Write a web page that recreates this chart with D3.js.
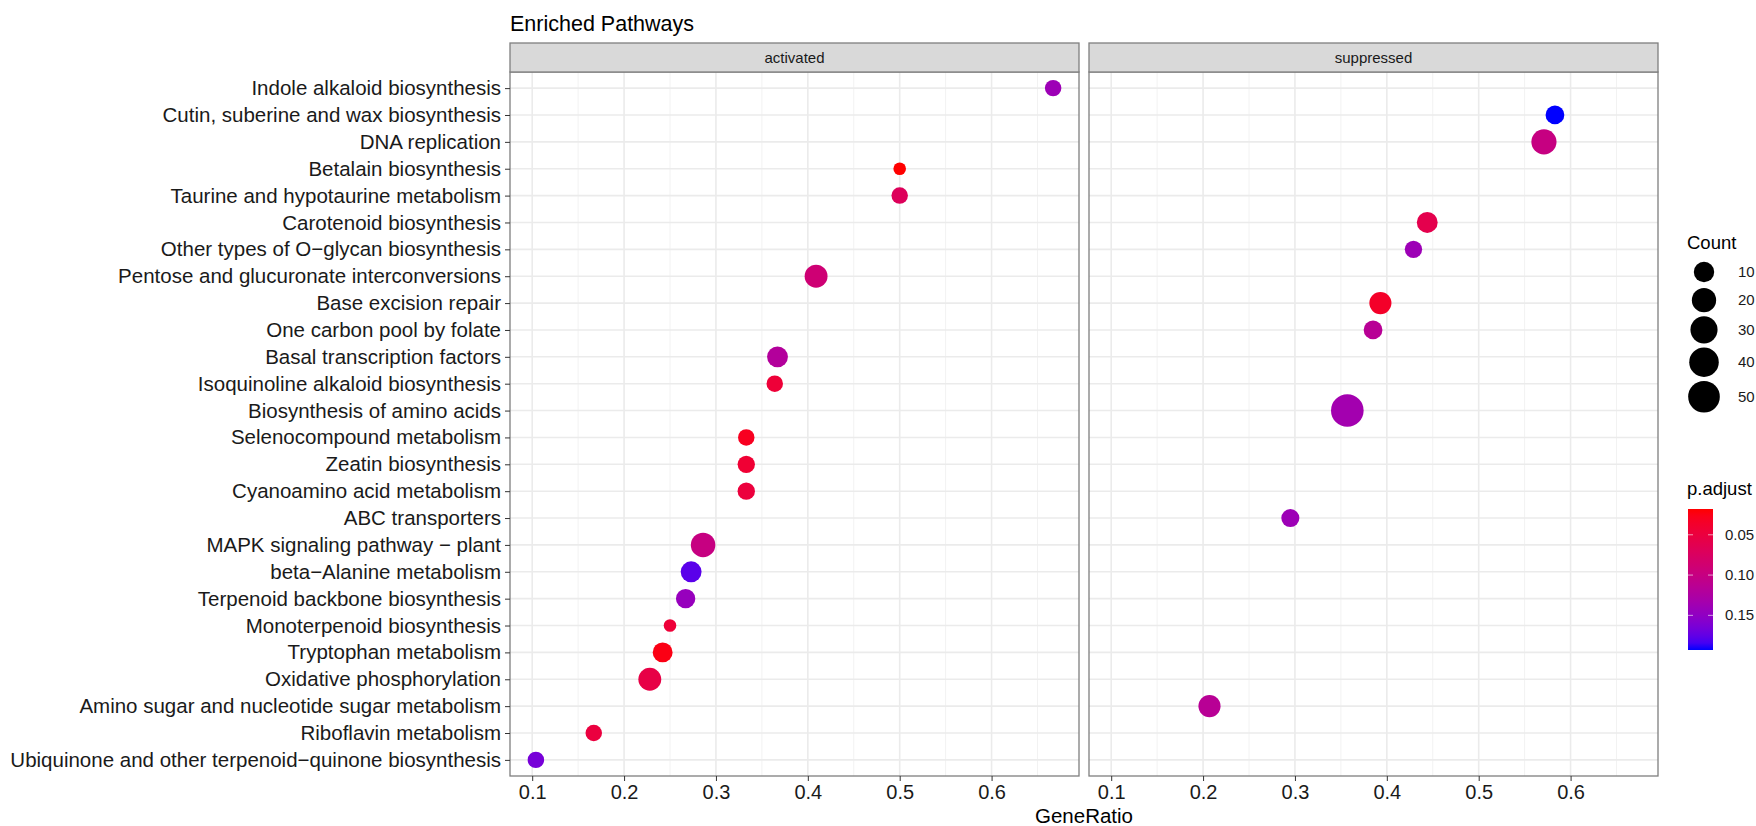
<!DOCTYPE html>
<html>
<head>
<meta charset="utf-8">
<script src="https://cdn.jsdelivr.net/npm/d3@7"></script>
<style>
  body { margin: 0; background: #fff; }
  text { font-family: "Liberation Sans", Arial, sans-serif; }
</style>
</head>
<body>
<div id="chart"></div>
<script>
// pathways, top to bottom, as on the y axis
var pathways = [
  "Indole alkaloid biosynthesis",
  "Cutin, suberine and wax biosynthesis",
  "DNA replication",
  "Betalain biosynthesis",
  "Taurine and hypotaurine metabolism",
  "Carotenoid biosynthesis",
  "Other types of O\u2212glycan biosynthesis",
  "Pentose and glucuronate interconversions",
  "Base excision repair",
  "One carbon pool by folate",
  "Basal transcription factors",
  "Isoquinoline alkaloid biosynthesis",
  "Biosynthesis of amino acids",
  "Selenocompound metabolism",
  "Zeatin biosynthesis",
  "Cyanoamino acid metabolism",
  "ABC transporters",
  "MAPK signaling pathway \u2212 plant",
  "beta\u2212Alanine metabolism",
  "Terpenoid backbone biosynthesis",
  "Monoterpenoid biosynthesis",
  "Tryptophan metabolism",
  "Oxidative phosphorylation",
  "Amino sugar and nucleotide sugar metabolism",
  "Riboflavin metabolism",
  "Ubiquinone and other terpenoid\u2212quinone biosynthesis"
];

var panels = ["activated", "suppressed"];

// activated panel
var actTerms = [
  "Indole alkaloid biosynthesis",
  "Betalain biosynthesis",
  "Taurine and hypotaurine metabolism",
  "Pentose and glucuronate interconversions",
  "Basal transcription factors",
  "Isoquinoline alkaloid biosynthesis",
  "Selenocompound metabolism",
  "Zeatin biosynthesis",
  "Cyanoamino acid metabolism",
  "MAPK signaling pathway \u2212 plant",
  "beta\u2212Alanine metabolism",
  "Terpenoid backbone biosynthesis",
  "Monoterpenoid biosynthesis",
  "Tryptophan metabolism",
  "Oxidative phosphorylation",
  "Riboflavin metabolism",
  "Ubiquinone and other terpenoid\u2212quinone biosynthesis"
];
var actRatio = [0.667, 0.5, 0.5, 0.409, 0.367, 0.364, 0.333, 0.333, 0.333, 0.286, 0.273, 0.267, 0.25, 0.242, 0.228, 0.167, 0.104];
var actCount = [4, 2, 4, 16, 11, 4, 4, 5, 5, 21, 11, 8, 2, 9, 16, 4, 4];
var actPadj  = [0.14, 0.018, 0.07, 0.09, 0.12, 0.045, 0.03, 0.042, 0.048, 0.10, 0.178, 0.145, 0.045, 0.024, 0.055, 0.05, 0.165];

// suppressed panel
var supTerms = [
  "Cutin, suberine and wax biosynthesis",
  "DNA replication",
  "Carotenoid biosynthesis",
  "Other types of O\u2212glycan biosynthesis",
  "Base excision repair",
  "One carbon pool by folate",
  "Biosynthesis of amino acids",
  "ABC transporters",
  "Amino sugar and nucleotide sugar metabolism"
];
var supRatio = [0.583, 0.571, 0.444, 0.429, 0.393, 0.385, 0.357, 0.295, 0.207];
var supCount = [7, 23, 11, 5, 14, 7, 55, 6, 14];
var supPadj  = [0.193, 0.10, 0.06, 0.14, 0.035, 0.115, 0.135, 0.14, 0.115];

// legend breaks
var countBreaks = [10, 20, 30, 40, 50];
var padjBreaks = [0.05, 0.10, 0.15];

// build rows for d3
var points = [];
actTerms.forEach(function(t, i) {
  points.push({panel: "activated", term: t, ratio: actRatio[i], count: actCount[i], padj: actPadj[i]});
});
supTerms.forEach(function(t, i) {
  points.push({panel: "suppressed", term: t, ratio: supRatio[i], count: supCount[i], padj: supPadj[i]});
});

// layout
var W = 1756, H = 826;
var stripTop = 43, panelTop = 72, panelBottom = 776;
var panelW = 569, panelH = panelBottom - panelTop;
var panelX = [510, 1089];

var svg = d3.select("#chart")
  .append("svg")
  .attr("width", W)
  .attr("height", H);

// x scale with ggplot-like 5% expansion
var rMin = d3.min(points, function(d) { return d.ratio; });
var rMax = d3.max(points, function(d) { return d.ratio; });
var pad = (rMax - rMin) * 0.05;
var x = d3.scaleLinear()
  .domain([rMin - pad, rMax + pad])
  .range([0, panelW]);
var xTicks = x.ticks(6);
var xMinor = [];
for (var i = 0; i < xTicks.length; i++) {
  var m = xTicks[i] + 0.05;
  if (m < x.domain()[1]) xMinor.push(m);
}
if (xTicks[0] - 0.05 > x.domain()[0]) xMinor.push(xTicks[0] - 0.05);

var y = d3.scalePoint()
  .domain(pathways)
  .range([0, panelH])
  .padding(0.6);

// size: ggplot area_pal style, range on diameter
var cMin = d3.min(points, function(d) { return d.count; });
var cMax = d3.max(points, function(d) { return d.count; });
var rad = d3.scaleLinear().domain([0, 1]).range([6.3, 16.3]);
function radius(c) {
  return rad(Math.sqrt((c - cMin) / (cMax - cMin)));
}

// colour: red (low p) -> blue (high p), Lab interpolation
var pLo = d3.min(points, function(d) { return d.padj; });
var pHi = d3.max(points, function(d) { return d.padj; });
var colour = d3.scaleLinear()
  .domain([pLo, pHi])
  .range(["red", "blue"])
  .interpolate(d3.interpolateLab);

// title
svg.append("text")
  .attr("x", 510)
  .attr("y", 31)
  .attr("font-size", "21.5px")
  .attr("fill", "#000")
  .text("Enriched Pathways");

panels.forEach(function(p, k) {
  var g = svg.append("g")
    .attr("transform", "translate(" + panelX[k] + "," + panelTop + ")");

  // strip
  svg.append("rect")
    .attr("x", panelX[k])
    .attr("y", stripTop)
    .attr("width", panelW)
    .attr("height", panelTop - stripTop)
    .attr("fill", "#d9d9d9")
    .attr("stroke", "#7f7f7f")
    .attr("stroke-width", 1.3);
  svg.append("text")
    .attr("x", panelX[k] + panelW / 2)
    .attr("y", stripTop + (panelTop - stripTop) / 2 + 5)
    .attr("text-anchor", "middle")
    .attr("font-size", "15px")
    .attr("fill", "#1a1a1a")
    .text(p);

  // grid
  g.selectAll(".minor")
    .data(xMinor)
    .enter()
    .append("line")
    .attr("x1", function(d) { return x(d); })
    .attr("x2", function(d) { return x(d); })
    .attr("y1", 0)
    .attr("y2", panelH)
    .attr("stroke", "#f2f2f2")
    .attr("stroke-width", 1);
  g.selectAll(".major")
    .data(xTicks)
    .enter()
    .append("line")
    .attr("x1", function(d) { return x(d); })
    .attr("x2", function(d) { return x(d); })
    .attr("y1", 0)
    .attr("y2", panelH)
    .attr("stroke", "#ebebeb")
    .attr("stroke-width", 1.6);
  g.selectAll(".hgrid")
    .data(pathways)
    .enter()
    .append("line")
    .attr("x1", 0)
    .attr("x2", panelW)
    .attr("y1", function(d) { return y(d); })
    .attr("y2", function(d) { return y(d); })
    .attr("stroke", "#ebebeb")
    .attr("stroke-width", 1.6);

  // dots
  g.selectAll("circle")
    .data(points.filter(function(d) { return d.panel == p; }))
    .enter()
    .append("circle")
    .attr("cx", function(d) { return x(d.ratio); })
    .attr("cy", function(d) { return y(d.term); })
    .attr("r", function(d) { return radius(d.count); })
    .attr("fill", function(d) { return colour(d.padj); });

  // border
  g.append("rect")
    .attr("width", panelW)
    .attr("height", panelH)
    .attr("fill", "none")
    .attr("stroke", "#7f7f7f")
    .attr("stroke-width", 1.3);

  // x axis
  var ax = g.append("g")
    .attr("transform", "translate(0," + panelH + ")")
    .call(d3.axisBottom(x).tickValues(xTicks).tickSize(5).tickPadding(4).tickFormat(d3.format(".1f")));
  ax.select(".domain").remove();
  ax.selectAll("line").attr("stroke", "#333");
  ax.selectAll("text").attr("font-size", "20px").attr("fill", "#1a1a1a")
    .attr("font-family", "Liberation Sans, Arial, sans-serif");

  // y axis on the first panel only
  if (k == 0) {
    var ay = g.append("g")
      .call(d3.axisLeft(y).tickSize(5).tickPadding(4));
    ay.select(".domain").remove();
    ay.selectAll("line").attr("stroke", "#333");
    ay.selectAll("text").attr("font-size", "20.5px").attr("fill", "#1a1a1a")
      .attr("font-family", "Liberation Sans, Arial, sans-serif");
  }
});

// x axis title
svg.append("text")
  .attr("x", (panelX[0] + panelX[1] + panelW) / 2)
  .attr("y", 823)
  .attr("text-anchor", "middle")
  .attr("font-size", "20.5px")
  .attr("fill", "#000")
  .text("GeneRatio");

// Count legend
var legX = 1687;
svg.append("text")
  .attr("x", legX)
  .attr("y", 249)
  .attr("font-size", "18.5px")
  .attr("fill", "#000")
  .text("Count");
var cy = 258;
countBreaks.forEach(function(c) {
  var r = radius(c);
  var h = Math.max(28, 2 * r + 4);
  var yc = cy + h / 2;
  svg.append("circle")
    .attr("cx", legX + 17)
    .attr("cy", yc)
    .attr("r", r)
    .attr("fill", "#000");
  svg.append("text")
    .attr("x", legX + 51)
    .attr("y", yc + 5)
    .attr("font-size", "15px")
    .attr("fill", "#1a1a1a")
    .text(c);
  cy += h;
});

// p.adjust colour bar
svg.append("text")
  .attr("x", legX)
  .attr("y", 495)
  .attr("font-size", "18.5px")
  .attr("fill", "#000")
  .text("p.adjust");

var barTop = 509, barH = 141, barW = 25;
var grad = svg.append("defs").append("linearGradient")
  .attr("id", "padjGrad")
  .attr("x1", 0).attr("x2", 0).attr("y1", 0).attr("y2", 1);
d3.range(0, 1.0001, 0.05).forEach(function(t) {
  grad.append("stop")
    .attr("offset", t)
    .attr("stop-color", colour(pLo + t * (pHi - pLo)));
});
svg.append("rect")
  .attr("x", legX + 1)
  .attr("y", barTop)
  .attr("width", barW)
  .attr("height", barH)
  .attr("fill", "url(#padjGrad)");

var barY = d3.scaleLinear().domain([pLo, pHi]).range([barTop, barTop + barH]);
padjBreaks.forEach(function(v) {
  var yy = barY(v);
  svg.append("line")
    .attr("x1", legX + 1).attr("x2", legX + 6)
    .attr("y1", yy).attr("y2", yy)
    .attr("stroke", "#fff").attr("stroke-opacity", 0.6);
  svg.append("line")
    .attr("x1", legX + barW - 4).attr("x2", legX + barW + 1)
    .attr("y1", yy).attr("y2", yy)
    .attr("stroke", "#fff").attr("stroke-opacity", 0.6);
  svg.append("text")
    .attr("x", legX + barW + 13)
    .attr("y", yy + 5)
    .attr("font-size", "15px")
    .attr("fill", "#1a1a1a")
    .text(d3.format(".2f")(v));
});
</script>
</body>
</html>
